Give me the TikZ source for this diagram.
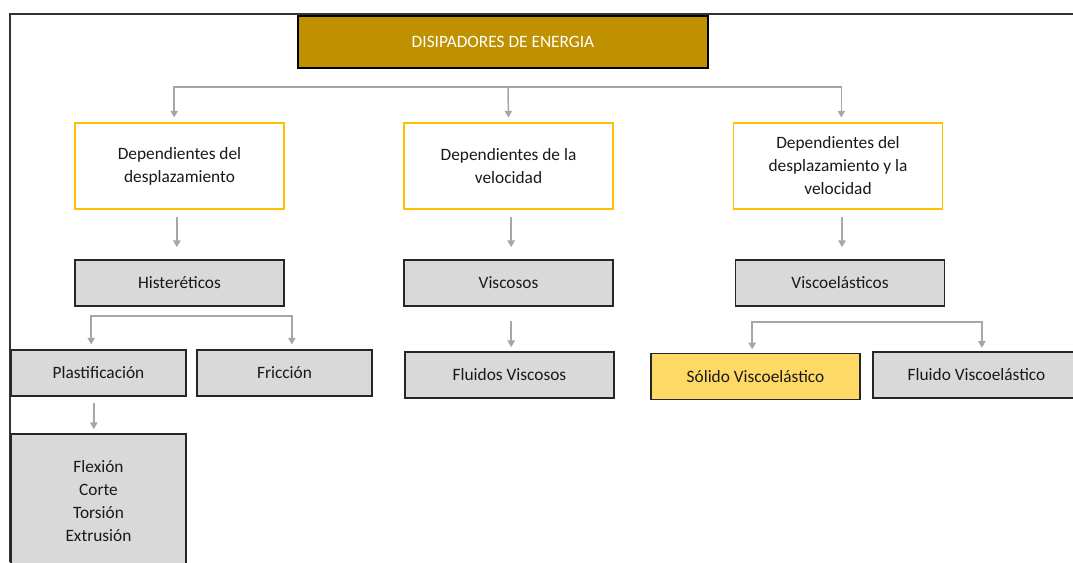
\documentclass[tikz,border=0pt]{standalone}
\usepackage{fontspec}
\setmainfont{Carlito}
\usepackage{xcolor}
\usepackage{tikz}
\usetikzlibrary{positioning, arrows.meta}
\definecolor{G1}{HTML}{BF9000}
\definecolor{G2}{HTML}{FFC000}
\definecolor{G3}{HTML}{D9D9D9}
\definecolor{G4}{HTML}{FFD966}
\definecolor{G5}{HTML}{A6A6A6}

\begin{document}
\begin{tikzpicture}[
	x=0.75pt, y=-0.75pt,
	font=\fontsize{13}{17.25}\selectfont,
	tvertex/.style = {draw=black, line width=1.3pt, fill=G1, text=white, rectangle, align=center, minimum width=307.5pt, minimum height=39pt, inner sep=0pt},
	dvertex/.style = {draw=G2, line width=1.3pt, fill=white, text=black!90, rectangle, align=center, minimum width=156.75pt, minimum height=64.5pt, inner sep=0pt},
	gvertex/.style = {draw=black!85, line width=1.3pt, fill=G3, text=black!90, rectangle, align=center, minimum width=156.75pt, minimum height=34.5pt, inner sep=0pt},
	svertex/.style = {gvertex, minimum width=131.25pt},
	conn/.style = {draw=G5, line width=1.1pt, -{Triangle[width=5.5pt,length=5pt]}},
	bus/.style = {conn, {Triangle[width=5.5pt,length=5pt]}-{Triangle[width=5.5pt,length=5pt]}}
]
  \useasboundingbox (0,0) rectangle (1073,562);
  \clip (0,0) rectangle (1073,562);
  % Frame
  \draw[line width=1pt, black!80] (10,562) -- (10,14) -- (1073,14);

  % Define vertices
  \node[tvertex] at (503, 42) (top) {DISIPADORES DE ENERGIA};
  \node[dvertex] at (179.5, 166) (desp) {Dependientes del\\desplazamiento};
  \node[dvertex] at (508.5, 166) (vel) {Dependientes de la\\velocidad};
  \node[dvertex] at (838, 166) (despvel) {Dependientes del\\desplazamiento y la\\velocidad};
  \node[gvertex] at (179.5, 283) (hist) {Histeréticos};
  \node[gvertex] at (508.5, 283) (visc) {Viscosos};
  \node[gvertex] at (840, 283) (viscel) {Viscoelásticos};
  \node[svertex] at (98.5, 373) (plast) {Plastificación};
  \node[svertex] at (284.5, 373) (fric) {Fricción};
  \node[gvertex] at (509.5, 375) (fluvisc) {Fluidos Viscosos};
  \node[gvertex, fill=G4] at (755.5, 376.5) (solido) {Sólido Viscoelástico};
  \node[gvertex, minimum width=155.25pt] at (976.5, 375) (fluido) {Fluido Viscoelástico};
  \node[svertex, minimum height=101.25pt] at (98.5, 501.5) (flex) {Flexión\\Corte\\Torsión\\Extrusión};

  % Buses
  \coordinate (tbus) at (508, 87);
  \coordinate (hbus) at (191.5, 316);
  \coordinate (vbus) at (867, 322);

  \draw[bus, shorten <=3.5pt, shorten >=3.5pt] ([xshift=-4pt]desp.north) |- (tbus) -| ([xshift=2.5pt]despvel.north);
  \draw[conn, shorten >=3.5pt] (tbus) -- (vel.north);
  \draw[conn, shorten <=5pt, shorten >=9pt] ([xshift=-2pt]desp.south) -- ([xshift=-2pt]hist.north);
  \draw[conn, shorten <=5pt, shorten >=9pt] ([xshift=2pt]vel.south) -- ([xshift=2pt]visc.north);
  \draw[conn, shorten <=5pt, shorten >=9pt] ([xshift=3pt]despvel.south) -- ([xshift=3pt]despvel.south |- viscel.north);
  \draw[bus, shorten <=3.5pt, shorten >=3.5pt] ([xshift=-5.5pt]plast.north) |- (hbus) -| ([xshift=5.5pt]fric.north);
  \draw[conn, shorten <=10.5pt, shorten >=3pt] ([xshift=2pt]visc.south) -- ([xshift=2pt]visc.south |- fluvisc.north);
  \draw[bus, shorten <=2.5pt, shorten >=2.5pt] ([xshift=-2.5pt]solido.north) |- (vbus) -| ([xshift=4pt]fluido.north);
  \draw[conn, shorten <=4.5pt, shorten >=3pt] ([xshift=-3.5pt]plast.south) -- ([xshift=-3.5pt]flex.north);
\end{tikzpicture}
\end{document}
